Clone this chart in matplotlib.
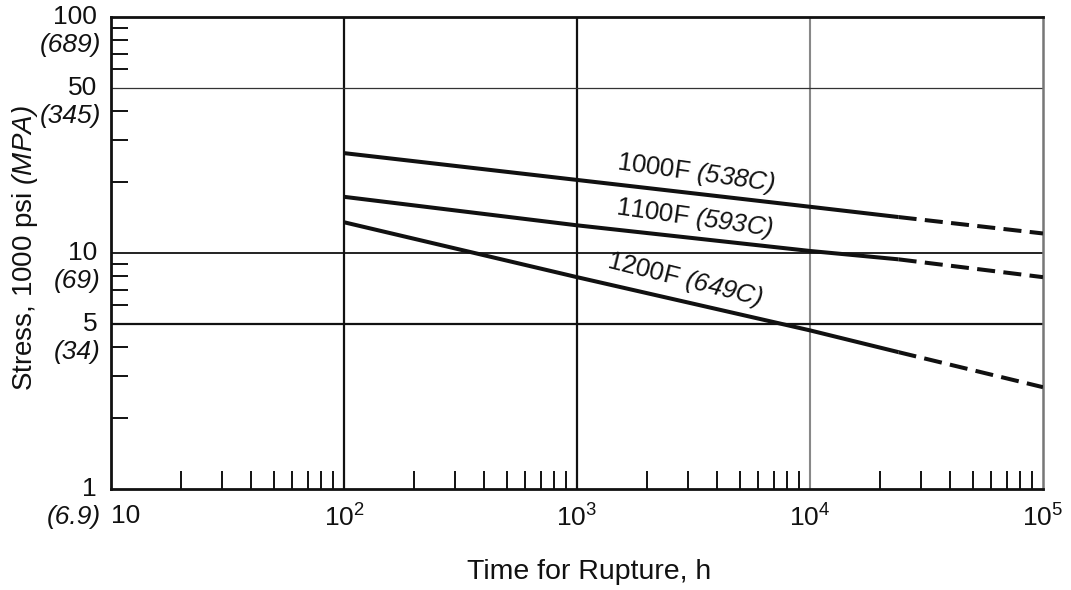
import matplotlib
matplotlib.use("Agg")
import matplotlib.pyplot as plt
import numpy as np
from matplotlib.ticker import FixedLocator, NullFormatter

plt.rcParams['font.family'] = ['Liberation Sans', 'DejaVu Sans']
plt.rcParams['mathtext.fontset'] = 'custom'
plt.rcParams['mathtext.rm'] = 'Liberation Sans'
plt.rcParams['mathtext.it'] = 'Liberation Sans:italic'
plt.rcParams['mathtext.sf'] = 'Liberation Sans:italic'
plt.rcParams['lines.scale_dashes'] = False

# ---- data ----
series_names = ["1000F (538C)", "1100F (593C)", "1200F (649C)"]
time_solid = [100, 1000, 10000, 24000]
stress_1000F = [26.5, 20.4, 15.7, 14.2]
stress_1100F = [17.3, 13.1, 10.2, 9.4]
stress_1200F = [13.5, 7.9, 4.7, 3.8]
time_dash = [24000, 100000]
stress_1000F_ext = [14.2, 12.1]
stress_1100F_ext = [9.4, 7.9]
stress_1200F_ext = [3.8, 2.7]

x_ticks = [10, 100, 1000, 10000, 100000]
x_tick_labels = ["10", "$10^2$", "$10^3$", "$10^4$", "$10^5$"]
y_ticks = [1, 5, 10, 50, 100]
y_tick_labels = ["1", "5", "10", "50", "100"]
y_mpa_labels = ["(6.9)", "(34)", "(69)", "(345)", "(689)"]
x_grid = [100, 1000, 10000]
y_grid = [5, 10, 50]

label_pos = [(3250, 21.8), (3200, 14.1), (2900, 7.7)]
label_rot = [-8, -8, -14]

fig = plt.figure(figsize=(10.71, 5.90), dpi=100)
ax = fig.add_axes([111/1071, 1 - 489/590, (1043-111)/1071, (489-17)/590])
ax.set_xscale('log')
ax.set_yscale('log')
ax.set_xlim(10, 1e5)
ax.set_ylim(1, 100)

# grid lines
grid_x_styles = [dict(color='#111111', lw=1.6), dict(color='#111111', lw=1.6), dict(color='#888888', lw=1.5)]
for xv, st in zip(x_grid, grid_x_styles):
    ax.axvline(xv, zorder=1, **st)
grid_y_styles = [dict(color='#111111', lw=1.6), dict(color='#111111', lw=1.3), dict(color='#333333', lw=0.9)]
for yv, st in zip(y_grid, grid_y_styles):
    ax.axhline(yv, zorder=1, **st)

solids = [stress_1000F, stress_1100F, stress_1200F]
exts = [stress_1000F_ext, stress_1100F_ext, stress_1200F_ext]
for s, e in zip(solids, exts):
    ax.plot(time_solid, s, color='#111111', lw=2.9, solid_capstyle='butt', zorder=3)
    ax.plot(time_dash, e, color='#111111', lw=2.9, linestyle=(0, (13, 6)),
            dash_capstyle='butt', zorder=3)

for name, (lx, ly), rot in zip(series_names, label_pos, label_rot):
    a, b = name.split(" ")
    ax.text(lx, ly, a + " " + r"$\mathsf{" + b + "}$", rotation=rot, ha='center', va='center',
            fontsize=18.5, color='#111111', rotation_mode='anchor', zorder=4)

# ticks
ax.xaxis.set_major_locator(FixedLocator(x_ticks))
ax.set_xticklabels(x_tick_labels)
ax.yaxis.set_major_locator(FixedLocator(y_ticks))
ax.set_yticklabels(y_tick_labels)
xminor = [m * 10**d for d in range(1, 5) for m in range(2, 10)]
yminor = [m * 10**d for d in range(0, 2) for m in range(2, 10) if not (m == 5)]
ax.xaxis.set_minor_locator(FixedLocator(xminor))
ax.yaxis.set_minor_locator(FixedLocator(yminor))
ax.xaxis.set_minor_formatter(NullFormatter())
ax.yaxis.set_minor_formatter(NullFormatter())
ax.tick_params(axis='x', which='major', length=0, pad=11, labelsize=19, colors='#111111')
ax.tick_params(axis='y', which='major', length=0, pad=10, labelsize=19, colors='#111111')
ax.tick_params(axis='x', which='minor', direction='in', length=13, width=1.4, color='#111111')
ax.tick_params(axis='y', which='minor', direction='in', length=12, width=1.4, color='#111111')
for lbl in ax.get_yticklabels():
    lbl.set_va('center')
first = ax.get_xticklabels()[0]
first.set_ha('left')

for yv, t in zip(y_ticks, y_mpa_labels):
    ax.annotate(t, xy=(0, yv), xycoords=('axes fraction', 'data'),
                xytext=(-10, -28), textcoords='offset pixels', ha='right', va='center',
                fontsize=19, style='italic', color='#111111', annotation_clip=False)

for side in ['left', 'bottom', 'top']:
    ax.spines[side].set_linewidth(2.0)
    ax.spines[side].set_color('#111111')
ax.spines['right'].set_linewidth(1.8)
ax.spines['right'].set_color('#777777')

fig.text(589/1071, 1 - 572/590, "Time for Rupture, h", ha='center', va='center',
         fontsize=20.5, color='#111111')
fig.text(25/1071, 1 - 248/590, r"Stress, 1000 psi $\mathsf{(MPA)}$", rotation=90,
         ha='center', va='center', fontsize=20, color='#111111')

fig.savefig("out.png", dpi=100)
